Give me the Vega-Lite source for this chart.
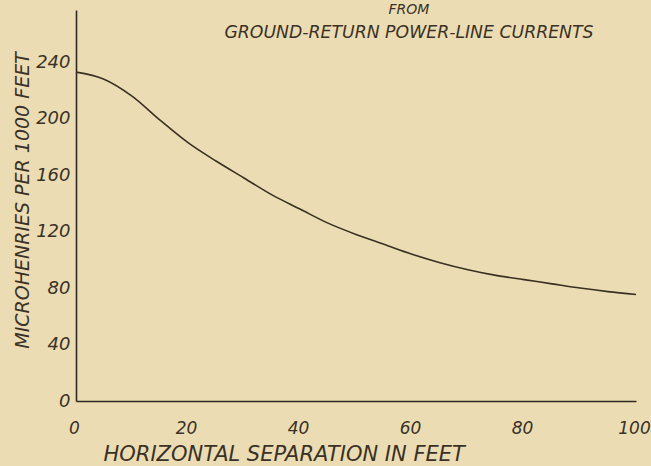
{
  "$schema": "https://vega.github.io/schema/vega-lite/v6.json",
  "autosize": {"type": "none"},
  "width": 560,
  "height": 391,
  "padding": {"left": 76, "top": 10, "right": 15, "bottom": 65},
  "background": "#ecdcb3",
  "title": {
    "text": "FROM",
    "subtitle": "GROUND-RETURN POWER-LINE CURRENTS",
    "anchor": "middle",
    "frame": "group",
    "dx": 53,
    "offset": -31,
    "font": "DejaVu Sans",
    "subtitleFont": "DejaVu Sans",
    "fontSize": 14,
    "subtitleFontSize": 17.3,
    "fontStyle": "italic",
    "subtitleFontStyle": "italic",
    "fontWeight": "normal",
    "color": "#3a3226",
    "subtitleColor": "#3a3226",
    "subtitlePadding": 7
  },
  "data": {
    "values": [
      {"separation": 0, "inductance": 233},
      {"separation": 5, "inductance": 228},
      {"separation": 10, "inductance": 216},
      {"separation": 15, "inductance": 199},
      {"separation": 20, "inductance": 183},
      {"separation": 25, "inductance": 170},
      {"separation": 30, "inductance": 158},
      {"separation": 35, "inductance": 146},
      {"separation": 40, "inductance": 136},
      {"separation": 45, "inductance": 126},
      {"separation": 50, "inductance": 118},
      {"separation": 55, "inductance": 111},
      {"separation": 60, "inductance": 104},
      {"separation": 65, "inductance": 98},
      {"separation": 70, "inductance": 93},
      {"separation": 75, "inductance": 89},
      {"separation": 80, "inductance": 86},
      {"separation": 85, "inductance": 83},
      {"separation": 90, "inductance": 80},
      {"separation": 95, "inductance": 77.5},
      {"separation": 100, "inductance": 75.5}
    ]
  },
  "mark": {"type": "line", "interpolate": "monotone", "color": "#3a3022", "strokeWidth": 1.6},
  "encoding": {
    "x": {
      "field": "separation",
      "type": "quantitative",
      "scale": {"domain": [0, 100], "nice": false, "zero": false},
      "axis": {
        "title": "HORIZONTAL SEPARATION IN FEET",
        "values": [0, 20, 40, 60, 80, 100],
        "grid": false,
        "ticks": false,
        "tickSize": 0,
        "labelPadding": 19,
        "labelFontSize": 17,
        "labelOffset": -2,
        "labelFlush": false,
        "titleAnchor": "start",
        "titleAlign": "left",
        "titleX": 27,
        "titleY": 53,
        "titleBaseline": "middle",
        "titleFontSize": 21
      }
    },
    "y": {
      "field": "inductance",
      "type": "quantitative",
      "scale": {"domain": [0, 277], "nice": false},
      "axis": {
        "title": "MICROHENRIES PER 1000 FEET",
        "values": [0, 40, 80, 120, 160, 200, 240],
        "grid": false,
        "ticks": false,
        "tickSize": 0,
        "labelPadding": 6,
        "labelFlush": false,
        "titleAngle": -90,
        "titleX": -54,
        "titleY": 190,
        "titleAlign": "center",
        "titleBaseline": "middle",
        "titleFontSize": 19
      }
    }
  },
  "config": {
    "view": {"stroke": null},
    "axis": {
      "domainColor": "#2e2a22",
      "domainWidth": 1.6,
      "labelFont": "DejaVu Sans",
      "labelFontSize": 18,
      "labelFontStyle": "italic",
      "labelColor": "#3a3226",
      "titleFont": "DejaVu Sans",
      "titleFontStyle": "italic",
      "titleFontWeight": "normal",
      "titleColor": "#3a3226"
    }
  }
}
